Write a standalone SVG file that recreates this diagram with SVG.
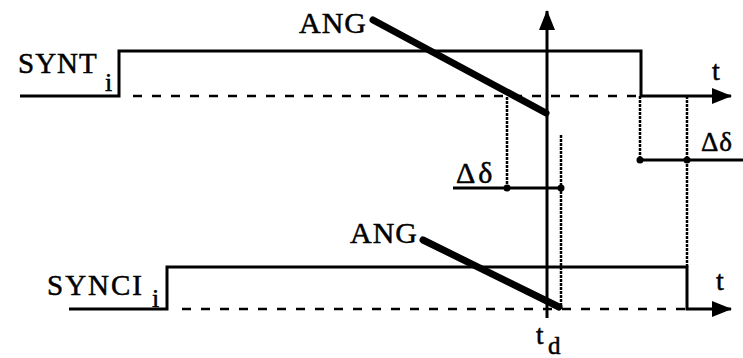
<svg xmlns="http://www.w3.org/2000/svg" width="743" height="358" viewBox="0 0 743 358">
<style>
.s{fill:none;stroke:#000;stroke-width:3}
.d{fill:none;stroke:#000;stroke-width:2.5;stroke-dasharray:9 10}
.w{fill:none;stroke:#000;stroke-width:2.5;stroke-dasharray:3 1}
.k{fill:none;stroke:#000;stroke-width:7;stroke-linecap:round}
.t{font-family:"Liberation Serif","Times New Roman",serif;fill:#000;stroke:#000;stroke-width:0.5}
</style>
<defs>
<marker id="ar" viewBox="0 0 20 16" refX="19" refY="8" markerWidth="20" markerHeight="16" markerUnits="userSpaceOnUse" orient="auto">
<path d="M0,0 L20,8 L0,16 Z" fill="#000"/>
</marker>
</defs>
<g id="connectors">
<path class="s" d="M20,96 H119 V51 H641 V96 H731" marker-end="url(#ar)"/>
<line class="d" x1="133" y1="96" x2="641" y2="96"/>
<line class="s" x1="547" y1="318" x2="547" y2="11" marker-end="url(#ar)"/>
<path class="s" d="M69,309 H167 V267 H687 V309 H731" marker-end="url(#ar)"/>
<line class="d" x1="182" y1="309" x2="687" y2="309"/>
<line class="k" x1="373" y1="20" x2="546" y2="113"/>
<line class="k" x1="423" y1="240" x2="559" y2="307"/>
<line class="w" x1="507" y1="97" x2="507" y2="188"/>
<line class="w" x1="561" y1="135" x2="561" y2="309"/>
<line class="w" x1="640" y1="96" x2="640" y2="160"/>
<line class="w" x1="687" y1="96" x2="687" y2="267"/>
<line class="s" x1="453" y1="188" x2="561" y2="188"/>
<line class="s" x1="640" y1="160" x2="743" y2="160"/>
<circle cx="507" cy="188" r="3.5"/>
<circle cx="561" cy="188" r="3.5"/>
<circle cx="640" cy="160" r="3.5"/>
<circle cx="687" cy="160" r="3.5"/>
</g>
<g id="label-synt">
<text class="t" x="18" y="73" font-size="29" letter-spacing="1">SYNT</text>
<text class="t" x="105" y="91" font-size="26">i</text>
</g>
<g id="label-synci">
<text class="t" x="47" y="295" font-size="29" letter-spacing="2">SYNCI</text>
<text class="t" x="152" y="307" font-size="26">i</text>
</g>
<g id="label-ang-top"><text class="t" x="299" y="33" font-size="30" letter-spacing="1">ANG</text></g>
<g id="label-ang-bottom"><text class="t" x="350" y="243" font-size="30" letter-spacing="1">ANG</text></g>
<g id="label-t-top"><text class="t" x="712" y="80" font-size="28">t</text></g>
<g id="label-t-bottom"><text class="t" x="716" y="290" font-size="28">t</text></g>
<g id="label-delta-mid"><text class="t" x="456" y="183" font-size="30" letter-spacing="3">Δδ</text></g>
<g id="label-delta-right"><text class="t" x="701" y="151" font-size="27" letter-spacing="1">Δδ</text></g>
<g id="label-td">
<text class="t" x="536" y="344" font-size="27">t</text>
<text class="t" x="548" y="354" font-size="25">d</text>
</g>
</svg>
